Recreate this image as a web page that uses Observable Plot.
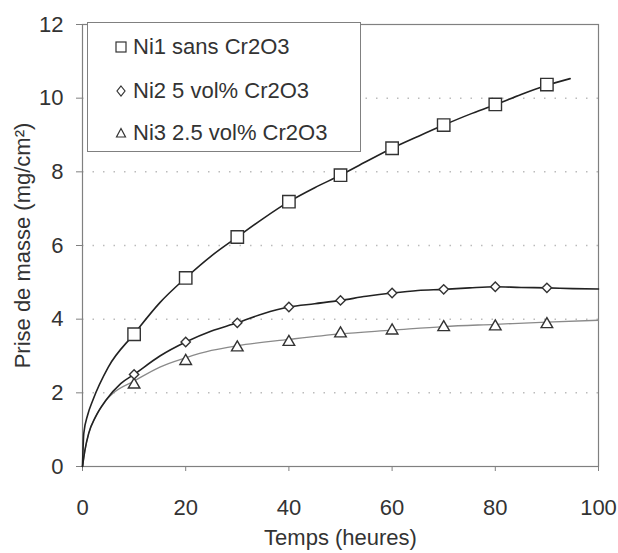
<!DOCTYPE html>
<html>
<head>
<meta charset="utf-8">
<script src="https://cdn.jsdelivr.net/npm/d3@7"></script>
<script src="https://cdn.jsdelivr.net/npm/@observablehq/plot@0.6"></script>
<style>
  body { margin: 0; background: #fff; }
  #wrap { position: relative; width: 618px; height: 553px; font-family: "Liberation Sans", Arial, sans-serif; }
  #legend { position: absolute; left: 87px; top: 22px; width: 274px; height: 130px; border: 1px solid #808080; background: #fff; box-sizing: border-box; color: #333; font-size: 22px; }
  #legend .row { position: absolute; left: 27px; height: 26px; display: flex; align-items: center; white-space: nowrap; }
  #legend svg { margin-right: 6px; }
</style>
</head>
<body>
<div id="wrap"></div>
<script>
// Measured markers (time in hours, mass gain mg/cm²)
const markerTimes = [10, 20, 30, 40, 50, 60, 70, 80, 90];
const ni1Markers = [3.59, 5.12, 6.23, 7.19, 7.91, 8.64, 9.27, 9.83, 10.37];
const ni2Markers = [2.50, 3.38, 3.90, 4.33, 4.51, 4.71, 4.81, 4.88, 4.85];
const ni3Markers = [2.22, 2.86, 3.23, 3.38, 3.61, 3.69, 3.78, 3.80, 3.86];

// Continuous curves
const ni1LineT = [0, 0.25, 1, 2, 5, 10, 15, 20, 25, 30, 35, 40, 45, 50, 55, 60, 65, 70, 75, 80, 85, 90, 94.5];
const ni1LineY = [0, 0.9, 1.4, 1.8, 2.7, 3.6, 4.45, 5.12, 5.72, 6.23, 6.73, 7.19, 7.57, 7.91, 8.28, 8.64, 8.96, 9.27, 9.56, 9.82, 10.1, 10.35, 10.53];
const ni2LineT = [0, 0.45, 1.2, 2.5, 4.5, 7.4, 10, 15, 20, 25, 30, 35, 40, 45, 50, 55, 60, 65, 70, 75, 80, 85, 90, 95, 100];
const ni2LineY = [0, 0.43, 0.9, 1.34, 1.79, 2.25, 2.5, 3.0, 3.38, 3.68, 3.9, 4.15, 4.33, 4.42, 4.51, 4.62, 4.71, 4.78, 4.81, 4.85, 4.88, 4.86, 4.85, 4.83, 4.82];
const ni3LineT = [0, 0.5, 1.2, 2.5, 4.5, 6, 10, 15, 20, 25, 30, 40, 50, 60, 70, 80, 90, 100];
const ni3LineY = [0, 0.45, 0.9, 1.34, 1.79, 2.0, 2.32, 2.7, 2.95, 3.15, 3.28, 3.45, 3.6, 3.7, 3.8, 3.86, 3.92, 3.97];

const seriesNames = ["Ni1 sans Cr2O3", "Ni2 5 vol% Cr2O3", "Ni3 2.5 vol% Cr2O3"];
const xTicks = [0, 20, 40, 60, 80, 100];
const yTicks = [0, 2, 4, 6, 8, 10, 12];
const gridY = [2, 4, 6, 8, 10];

const line = (ts, ys) => ts.map((t, i) => ({t, y: ys[i]}));
const pts = (ys) => markerTimes.map((t, i) => ({t, y: ys[i]}));

const chart = Plot.plot({
  width: 618,
  height: 553,
  marginLeft: 82,
  marginRight: 20,
  marginTop: 24,
  marginBottom: 87,
  style: {fontFamily: "'Liberation Sans', Arial, sans-serif", color: "#333", background: "#fff", overflow: "visible"},
  x: {domain: [0, 100]},
  y: {domain: [0, 12]},
  marks: [
    Plot.ruleY(gridY, {stroke: "#bbb", strokeDasharray: "1.5,9", strokeWidth: 1.5}),
    Plot.frame({stroke: "#808080", strokeWidth: 1.2}),
    Plot.axisX({ticks: xTicks, tickFormat: d => d, tickSize: 5, tickPadding: 28, fontSize: 22, stroke: "#808080", label: null}),
    Plot.axisY({ticks: yTicks, tickFormat: d => d, tickSize: 6, tickPadding: 13, fontSize: 22, stroke: "#808080", label: null}),
    Plot.text(["Temps (heures)"], {frameAnchor: "bottom", dy: 78, fontSize: 22, fill: "#333"}),
    Plot.text(["Prise de masse (mg/cm²)"], {frameAnchor: "left", dx: -60, rotate: -90, textAnchor: "middle", fontSize: 22, fill: "#333"}),
    Plot.line(line(ni3LineT, ni3LineY), {x: "t", y: "y", stroke: "#8a8a8a", strokeWidth: 1.3, curve: "monotone-x"}),
    Plot.line(line(ni2LineT, ni2LineY), {x: "t", y: "y", stroke: "#222", strokeWidth: 1.6, curve: "monotone-x"}),
    Plot.line(line(ni1LineT, ni1LineY), {x: "t", y: "y", stroke: "#222", strokeWidth: 1.6, curve: "monotone-x"}),
    Plot.dot(pts(ni3Markers), {x: "t", y: "y", symbol: "triangle", r: 4.3, fill: "#fff", stroke: "#333", strokeWidth: 1.4}),
    Plot.dot(pts(ni2Markers), {x: "t", y: "y", symbol: "diamond2", r: 4.2, fill: "#fff", stroke: "#333", strokeWidth: 1.4}),
    Plot.dot(pts(ni1Markers), {x: "t", y: "y", symbol: "square", r: 7, fill: "#fff", stroke: "#333", strokeWidth: 1.4})
  ]
});

const wrap = document.getElementById("wrap");
wrap.appendChild(chart);

// Legend overlay
const legend = document.createElement("div");
legend.id = "legend";
const symbols = [
  '<svg width="12" height="12"><rect x="1" y="1" width="10" height="10" fill="#fff" stroke="#333" stroke-width="1.2"/></svg>',
  '<svg width="12" height="12"><path d="M6,1 L10,6 L6,11 L2,6 Z" fill="#fff" stroke="#333" stroke-width="1.2"/></svg>',
  '<svg width="12" height="12"><path d="M6,1.5 L10.5,10 L1.5,10 Z" fill="#fff" stroke="#333" stroke-width="1.2"/></svg>'
];
const tops = [11, 55, 97];
seriesNames.forEach((name, i) => {
  const row = document.createElement("div");
  row.className = "row";
  row.style.top = tops[i] + "px";
  row.innerHTML = symbols[i] + '<span>' + name + '</span>';
  legend.appendChild(row);
});
wrap.appendChild(legend);
</script>
</body>
</html>
